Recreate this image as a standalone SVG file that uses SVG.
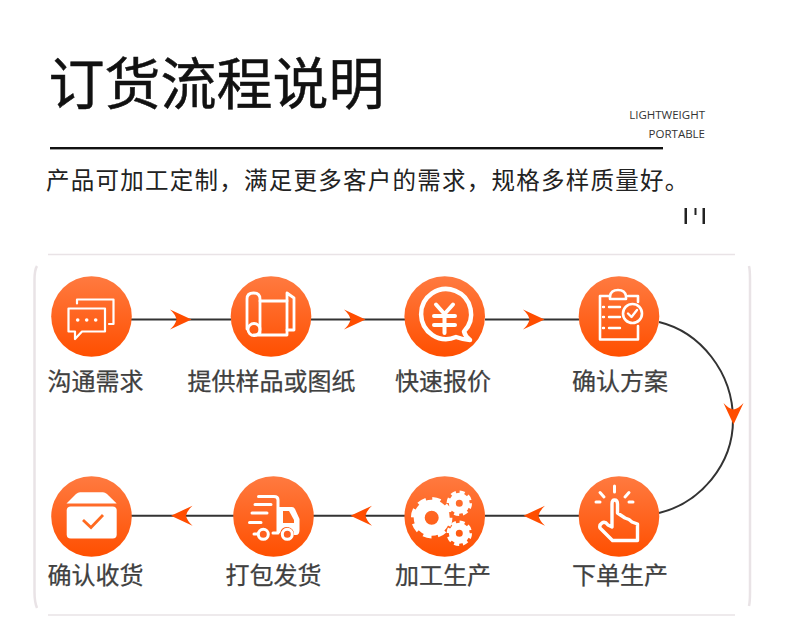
<svg xmlns="http://www.w3.org/2000/svg" width="790" height="635" viewBox="0 0 790 635">
<style>
text{font-family:"Noto Sans CJK SC","Noto Sans",sans-serif}
.lb{font-size:24px;fill:#404040;stroke:#404040;stroke-width:.25;text-anchor:middle}
.ln{fill:none;stroke:#333;stroke-width:2}
.ic{fill:none;stroke:#fff;stroke-linecap:round;stroke-linejoin:round}
.w{fill:#fff}
.o{fill:#ff6a20}
.c{fill:url(#g)}
</style>
<defs>
<linearGradient id="g" x1="0" y1="0" x2="0" y2="1"><stop offset="0" stop-color="#ff7a40"/><stop offset="1" stop-color="#ff4f00"/></linearGradient>
<path id="ah" d="M-21.500-10 L0 0 L-21.500 10 Q-16 5-15 0Q-16-5-21.500-10Z" fill="#ff4d00"/>
</defs>
<rect width="790" height="635" fill="#fff"/>
<g id="header">
<text x="48.500" y="104" font-size="56" font-weight="400" fill="#111" stroke="#111" stroke-width=".5">订货流程说明</text>
<rect x="50" y="147" width="613" height="2.400" fill="#111"/>
<text x="705" y="119" font-size="11.500" fill="#333" text-anchor="end" style="font-family:'Open Sans',sans-serif">LIGHTWEIGHT</text>
<text x="705" y="138" font-size="11.500" fill="#333" text-anchor="end" style="font-family:'Open Sans',sans-serif">PORTABLE</text>
<text x="46" y="189" font-size="23.500" letter-spacing="1.250" fill="#222">产品可加工定制&#xFF0C;满足更多客户的需求&#xFF0C;规格多样质量好。</text>
<rect x="684.500" y="208" width="2.500" height="16" fill="#222"/><rect x="694.500" y="208" width="2" height="7" fill="#222"/><rect x="702.500" y="208" width="2.500" height="16" fill="#222"/>
</g>
<g id="card" fill="none" stroke="#e9e3e6" stroke-width="1.500">
<path d="M48 254.500H735M48 615H735"/>
<path d="M37 266Q34.500 270 34.500 280V592Q34.500 602 37 608" stroke-width="2.500"/>
<path d="M749 266Q750 270 750 280V592Q750 602 749 606" stroke-width="2.500"/>
</g>
<g id="connectors">
<path class="ln" d="M131 319.500H231M311 319.500H405M485 319.500H579"/>
<path class="ln" d="M659 322C700 332 733 372 733 420C733 465 700 503 659 513"/>
<path class="ln" d="M131 515.700H234M313 515.700H405M485 515.700H579"/>
<use href="#ah" transform="translate(191.500 319.500)"/>
<use href="#ah" transform="translate(365.500 319.500)"/>
<use href="#ah" transform="translate(544.500 319.500)"/>
<use href="#ah" transform="translate(733.500 424.500) rotate(90)"/>
<use href="#ah" transform="translate(523.500 515.700) rotate(180)"/>
<use href="#ah" transform="translate(350.500 515.700) rotate(180)"/>
<use href="#ah" transform="translate(171 515.700) rotate(180)"/>
</g>
<g id="n1"><circle class="c" cx="91.500" cy="316.500" r="40.300"/>
<path class="ic" stroke-width="2.200" d="M68.500 308.500H105V331.500H82L75 339V331.500H68.500Z"/>
<path class="ic" stroke-width="2.200" d="M77 303.500V299.500H113.500V324H109"/>
<circle class="w" cx="77.700" cy="320" r="1.800"/><circle class="w" cx="86.700" cy="320" r="1.800"/><circle class="w" cx="95.700" cy="320" r="1.800"/>
<text class="lb" x="95.500" y="390">沟通需求</text></g>
<g id="n2"><circle class="c" cx="271" cy="316.500" r="40.300"/>
<path class="ic" stroke-width="2.800" d="M247 329V299Q247 293 253.500 293Q260 293 260 299V333"/>
<path class="ic" stroke-width="2.800" d="M260 301H287V293L294 298V330H287M287 330V335H254"/>
<circle class="ic" stroke-width="2.800" cx="254" cy="329.500" r="6"/>
<path class="ic" stroke-width="2.800" d="M287 301V330"/>
<text class="lb" x="271.500" y="390">提供样品或图纸</text></g>
<g id="n3"><circle class="c" cx="444.700" cy="316.500" r="40.300"/>
<path class="ic" stroke-width="4.500" d="M464 331.500A25 25 0 1 0 456 337Q463 339.500 470 340Q465 336 464 331.500Z"/>
<path class="ic" stroke-width="4" d="M436 304.500L444.500 314L453 304.500M434 316H455M434 325H455M444.500 314V333"/>
<text class="lb" x="443" y="390">快速报价</text></g>
<g id="n4"><circle class="c" cx="619" cy="316.500" r="40.300"/>
<path class="ic" stroke-width="2.600" d="M610 296H600V339.500H638V326M638 302V296H628"/>
<path class="ic" stroke-width="2.600" d="M610 299V296Q611 290 618 290Q625 290 626 296V299H610Z"/>
<path class="ic" stroke-width="2.400" d="M603 307H604M609 307H620M603 317H604M609 317H620M603 328H604M609 328H620"/>
<circle class="ic" stroke-width="2.600" cx="632.500" cy="313.500" r="9.500"/>
<path class="ic" stroke-width="2.400" d="M628 313.500L631.500 317L637 310"/>
<text class="lb" x="620" y="390">确认方案</text></g>
<g id="n5"><circle class="c" cx="619" cy="516.500" r="40.300"/>
<path class="ic" stroke-width="3" d="M614.500 492V486M604 497L600 492.500M600 502H596M625 497L629 492.500M629 502H633"/>
<path class="ic" stroke-width="3.400" d="M612 527V504Q612 500 614.500 500Q617.500 500 617.500 504V513L622 516L625 518L629 519.500L632 522L637.500 524V540.500H612.500L600 528Q599 525 602 523Q605 521 608 525Z"/>
<text class="lb" x="620" y="583.500">下单生产</text></g>
<g id="n6"><circle class="c" cx="444.700" cy="516.500" r="40.300"/>
<g fill="none" stroke="#fff">
<circle cx="431.700" cy="517.700" r="12.500" stroke-width="11"/><circle cx="431.700" cy="517.700" r="18" stroke-width="5.500" stroke-dasharray="8 6.140"/>
<circle cx="459.300" cy="503.300" r="7" stroke-width="7"/><circle cx="459.300" cy="503.300" r="11" stroke-width="3.500" stroke-dasharray="5 3.640"/>
<circle cx="459.300" cy="533.300" r="7" stroke-width="7"/><circle cx="459.300" cy="533.300" r="11" stroke-width="3.500" stroke-dasharray="5 3.640"/>
</g>
<text class="lb" x="443" y="583.500">加工生产</text></g>
<g id="n7"><circle class="c" cx="273.500" cy="516.500" r="40.300"/>
<path class="ic" stroke-width="3" d="M258.500 496.500H274Q278 496.500 278 500V533H273M255 504.500H271M252 513H267M249.500 522.500H261M254 534H257"/>
<path class="w" d="M278 507H292Q294 507 295 509L299.500 519V530Q299.500 535 296 535H294A7 7 0 0 0 280 533H278Z"/>
<path class="o" d="M283 511H289L294 520V523H283Z"/>
<circle cx="263.300" cy="534.300" r="5" fill="#ff6020" stroke="#fff" stroke-width="3"/>
<circle cx="287.300" cy="534.300" r="5" fill="#ff6020" stroke="#fff" stroke-width="3"/>
<text class="lb" x="273.500" y="583.500">打包发货</text></g>
<g id="n8"><circle class="c" cx="91.500" cy="516.500" r="40.300"/>
<path class="w" d="M66.500 503.500L76 494Q78 492.300 80 492.300H103Q105 492.300 107 494L116.700 503.500Z"/>
<rect class="w" x="66.700" y="506.500" width="50" height="32" rx="4"/>
<path fill="none" stroke="#ff6a20" stroke-width="2.800" d="M83 520L91 527.500L103 515"/>
<text class="lb" x="95.500" y="583.500">确认收货</text></g>
</svg>
